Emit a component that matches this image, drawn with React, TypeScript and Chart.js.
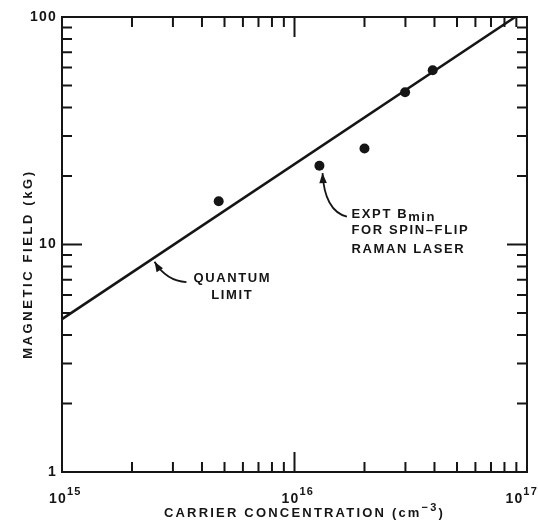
import React, { useEffect, useRef } from "react";
import { Chart, registerables } from "chart.js";

Chart.register(...registerables);

// ---- data ----
const carrierConc = [4.72e15, 1.28e16, 2.0e16, 2.99e16, 3.93e16];
const bMin = [15.5, 22.2, 26.4, 46.7, 58.3];
const limitConc = [1e15, 8.9e16];
const limitField = [4.7, 100];

const xDecades = [15, 16, 17];
const yMajor = [1, 10, 100];
const yLabels = ["1", "10", "100"];
const minorMult = [2, 3, 4, 5, 6, 7, 8, 9];

const xTitle = "CARRIER CONCENTRATION (cm";
const xTitleExp = "\u22123";
const yTitle = "MAGNETIC FIELD (kG)";

const INK = "#151515";
const FONT = "'Liberation Sans', Arial, sans-serif";
const TXT = `bold 13px ${FONT}`;
const NUM = `bold 14px ${FONT}`;
const SUP = `bold 11px ${FONT}`;

const framePlugin = {
  id: "frame",
  afterDraw(chart: any) {
    const { ctx, chartArea, scales } = chart;
    const { left, right, top, bottom } = chartArea;
    const x = scales.x;
    const y = scales.y;
    const W = chart.width;
    ctx.save();
    ctx.strokeStyle = INK;
    ctx.fillStyle = INK;
    ctx.lineWidth = 2;
    ctx.lineCap = "butt";
    ctx.strokeRect(left, top, right - left, bottom - top);

    // x ticks (inward, bottom and top)
    for (const d of xDecades.slice(0, -1)) {
      for (const m of [1, ...minorMult]) {
        if (d === xDecades[0] && m === 1) continue;
        const px = x.getPixelForValue(m * Math.pow(10, d));
        const len = m === 1 ? 20 : 10;
        ctx.beginPath();
        ctx.moveTo(px, bottom);
        ctx.lineTo(px, bottom - len);
        ctx.moveTo(px, top);
        ctx.lineTo(px, top + len);
        ctx.stroke();
      }
    }
    // y ticks (inward, left and right)
    for (const base of yMajor.slice(0, -1)) {
      for (const m of [1, ...minorMult]) {
        if (base === yMajor[0] && m === 1) continue;
        const py = y.getPixelForValue(m * base);
        const len = m === 1 ? 20 : 10;
        ctx.beginPath();
        ctx.moveTo(left, py);
        ctx.lineTo(left + len, py);
        ctx.moveTo(right, py);
        ctx.lineTo(right - len, py);
        ctx.stroke();
      }
    }

    // y tick labels
    (ctx as any).letterSpacing = "1.2px";
    ctx.font = NUM;
    ctx.textAlign = "right";
    ctx.textBaseline = "middle";
    yMajor.forEach((v, i) => {
      ctx.fillText(yLabels[i], left - 5, y.getPixelForValue(v));
    });

    // x tick labels 10^n
    ctx.textBaseline = "alphabetic";
    ctx.textAlign = "left";
    xDecades.forEach((d) => {
      const px = x.getPixelForValue(Math.pow(10, d));
      ctx.font = NUM;
      const w = ctx.measureText("10").width;
      ctx.font = SUP;
      const we = ctx.measureText(String(d)).width;
      let sx = px - 4 - w / 2;
      if (sx + w + we > W) sx = W - (w + we);
      ctx.font = NUM;
      ctx.fillText("10", sx, bottom + 31);
      ctx.font = SUP;
      ctx.fillText(String(d), sx + w, bottom + 23);
    });

    // x title
    (ctx as any).letterSpacing = "2.2px";
    ctx.font = TXT;
    const w1 = ctx.measureText(xTitle).width;
    ctx.font = SUP;
    const w2 = ctx.measureText(xTitleExp).width;
    ctx.font = TXT;
    const w3 = ctx.measureText(")").width;
    const total = w1 + w2 + w3;
    const cx = (left + right) / 2 + 10;
    const sx = cx - total / 2;
    ctx.textAlign = "left";
    const by = bottom + 45;
    ctx.fillText(xTitle, sx, by);
    ctx.font = SUP;
    ctx.fillText(xTitleExp, sx + w1, by - 6);
    ctx.font = TXT;
    ctx.fillText(")", sx + w1 + w2, by);

    // y title
    (ctx as any).letterSpacing = "2.6px";
    ctx.save();
    ctx.translate(left - 34, y.getPixelForValue(8.2));
    ctx.rotate(-Math.PI / 2);
    ctx.textAlign = "center";
    ctx.textBaseline = "middle";
    ctx.fillText(yTitle, 0, 0);
    ctx.restore();

    // annotations
    (ctx as any).letterSpacing = "1.6px";
    const P = (xv: number, yv: number) => [x.getPixelForValue(xv), y.getPixelForValue(yv)];
    const arrow = (tail: number[], ctrl: number[], tip: number[]) => {
      ctx.lineWidth = 1.8;
      ctx.beginPath();
      ctx.moveTo(tail[0], tail[1]);
      ctx.quadraticCurveTo(ctrl[0], ctrl[1], tip[0], tip[1]);
      ctx.stroke();
      const ang = Math.atan2(tip[1] - ctrl[1], tip[0] - ctrl[0]);
      const L = 10, Wd = 3.8;
      const bx = tip[0] - L * Math.cos(ang);
      const byy = tip[1] - L * Math.sin(ang);
      ctx.beginPath();
      ctx.moveTo(tip[0], tip[1]);
      ctx.lineTo(bx + Wd * Math.sin(ang), byy - Wd * Math.cos(ang));
      ctx.lineTo(bx - Wd * Math.sin(ang), byy + Wd * Math.cos(ang));
      ctx.closePath();
      ctx.fill();
    };

    // Quantum limit
    const qTip = P(2.5e15, 8.4);
    const qTail = P(3.43e15, 6.84);
    arrow(qTail, [qTip[0] + 12, qTail[1] - 1], qTip);
    ctx.font = TXT;
    ctx.textAlign = "center";
    ctx.textBaseline = "middle";
    const q1 = P(5.4e15, 7.13);
    ctx.fillText("QUANTUM", q1[0], q1[1]);
    const q2 = P(5.4e15, 5.97);
    ctx.fillText("LIMIT", q2[0], q2[1]);

    // Expt B_min
    const eTip = P(1.32e16, 20.6);
    const eTail = P(1.68e16, 13.25);
    arrow(eTail, [eTip[0] + 2, eTail[1] - 6], eTip);
    ctx.textAlign = "left";
    const e1 = P(1.76e16, 13.5);
    ctx.fillText("EXPT B", e1[0], e1[1]);
    const ew = ctx.measureText("EXPT B").width;
    ctx.fillText("min", e1[0] + ew, e1[1] + 3);
    const e2 = P(1.76e16, 11.5);
    ctx.fillText("FOR SPIN\u2013FLIP", e2[0], e2[1]);
    const e3 = P(1.76e16, 9.5);
    ctx.fillText("RAMAN LASER", e3[0], e3[1]);

    ctx.restore();
  },
};

export default function App() {
  const ref = useRef<HTMLCanvasElement>(null);
  useEffect(() => {
    if (!ref.current) return;
    const chart = new Chart(ref.current, {
      type: "scatter",
      data: {
        datasets: [
          {
            data: carrierConc.map((c, i) => ({ x: c, y: bMin[i] })),
            showLine: false,
            pointRadius: 5,
            pointHoverRadius: 5,
            backgroundColor: INK,
            borderColor: INK,
            borderWidth: 0,
          },
          {
            data: limitConc.map((c, i) => ({ x: c, y: limitField[i] })),
            showLine: true,
            pointRadius: 0,
            borderColor: INK,
            borderWidth: 2.5,
            backgroundColor: INK,
          },
        ],
      },
      options: {
        responsive: false,
        animation: false,
        events: [],
        layout: { padding: { left: 62, right: 11, top: 17, bottom: 49 } },
        plugins: { legend: { display: false }, tooltip: { enabled: false } },
        scales: {
          x: { type: "logarithmic", min: 1e15, max: 1e17, display: false },
          y: { type: "logarithmic", min: 1, max: 100, display: false },
        },
      },
      plugins: [framePlugin],
    });
    return () => chart.destroy();
  }, []);
  return (
    <div style={{ position: "absolute", left: 0, top: 0, width: 538, height: 521, background: "#fff" }}>
      <canvas ref={ref} width={538} height={521} />
    </div>
  );
}
